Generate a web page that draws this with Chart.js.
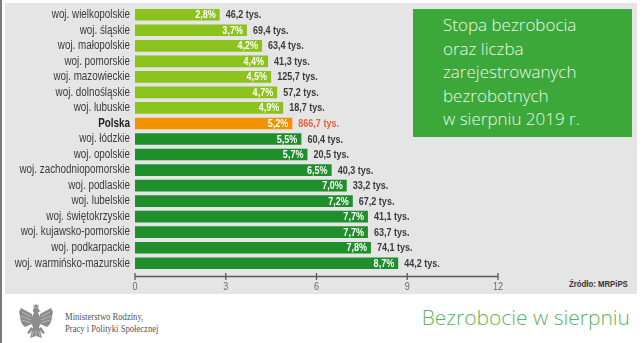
<!DOCTYPE html>
<html><head><meta charset="utf-8">
<script src="https://cdn.jsdelivr.net/npm/chart.js@4"></script>
<style>
html,body{margin:0;padding:0;background:#fff;}
body{width:643px;height:343px;position:relative;overflow:hidden;}
#panel{position:absolute;left:5px;top:3px;width:632px;height:291px;background:#e5e5e5;}
#edge{position:absolute;left:0;top:0;width:1.5px;height:343px;background:#7a7a7a;}
#box{position:absolute;left:413px;top:9px;width:219px;height:128px;background:#3ca83a;color:#eef7e8;font-family:'Open Sans',sans-serif;font-weight:300;font-size:17px;line-height:23.5px;padding:4px 0 0 30px;box-sizing:border-box;}
#src{position:absolute;right:15px;top:278px;font:bold 9.5px 'Liberation Sans',sans-serif;color:#333;transform:scaleX(0.82);transform-origin:right center;white-space:nowrap;}
#title{position:absolute;right:13px;top:303px;font:300 21px 'Open Sans',sans-serif;color:#5bb55b;white-space:nowrap;}
#min{position:absolute;left:65px;top:311px;font:10px 'Liberation Serif',serif;color:#555;line-height:11.5px;transform:scaleX(0.86);transform-origin:left top;white-space:nowrap;}
#eagle{position:absolute;left:18px;top:303px;width:36px;height:38px;}
#wrap{position:absolute;left:0;top:0;width:643px;height:343px;}
</style></head>
<body>
<div id="edge"></div>
<div id="panel"></div>
<div id="box">Stopa bezrobocia<br>oraz liczba<br>zarejestrowanych<br>bezrobotnych<br>w sierpniu 2019 r.</div>
<div id="src">Źródło: MRPiPS</div>
<svg id="eagle" viewBox="0 0 36 38">
 <g fill="#8c8c8c">
  <path d="M15.5 1 L16.5 3 L18 0.5 L19.5 3 L20.5 1 L20.5 4.5 L15.5 4.5 Z"/>
  <circle cx="18" cy="7.5" r="3"/>
  <path d="M20.5 7 L23 8 L20.5 9 Z"/>
  <ellipse cx="18" cy="18" rx="4.5" ry="9"/>
  <path d="M14 11 L3 5 L1 9 L2 13 L2.5 17 L4 21 L7 24 L14 21 Z"/>
  <path d="M22 11 L33 5 L35 9 L34 13 L33.5 17 L32 21 L29 24 L22 21 Z"/>
  <path d="M14.5 25 L21.5 25 L24 35 L18 33 L12 35 Z"/>
  <path d="M13 24 L9 30 L11 31 L15 26 Z"/>
  <path d="M23 24 L27 30 L25 31 L21 26 Z"/>
 </g>
 <g stroke="#d8d8d8" stroke-width="0.6" fill="none">
  <path d="M4 9 L13 14 M3 13 L13 17 M4 17 L13 20"/>
  <path d="M32 9 L23 14 M33 13 L23 17 M32 17 L23 20"/>
  <path d="M18 27 L18 33 M15.5 28 L14 33 M20.5 28 L22 33"/>
 </g>
</svg>
<div id="min">Ministerstwo Rodziny,<br>Pracy i Polityki Społecznej</div>
<div id="title">Bezrobocie w sierpniu</div>
<div id="wrap"><canvas id="c" width="643" height="343"></canvas></div>
<script>
const categories = ['woj. wielkopolskie','woj. śląskie','woj. małopolskie','woj. pomorskie','woj. mazowieckie','woj. dolnośląskie','woj. lubuskie','Polska','woj. łódzkie','woj. opolskie','woj. zachodniopomorskie','woj. podlaskie','woj. lubelskie','woj. świętokrzyskie','woj. kujawsko-pomorskie','woj. podkarpackie','woj. warmińsko-mazurskie'];
const rates = [2.8,3.7,4.2,4.4,4.5,4.7,4.9,5.2,5.5,5.7,6.5,7.0,7.2,7.7,7.7,7.8,8.7];
const counts = [46.2,69.4,63.4,41.3,125.7,57.2,18.7,866.7,60.4,20.5,40.3,33.2,67.2,41.1,63.7,74.1,44.2];
const xTicks = [0,3,6,9,12];
const highlight = 'Polska';

const FAM = "'Liberation Sans',Arial,sans-serif";
const SX = 0.82; // condensed look
const hiIdx = categories.indexOf(highlight);
const colors = categories.map((c,i)=> i===hiIdx ? '#f39200' : (rates[i] < rates[hiIdx] ? '#8cc21c' : '#1f8f2b'));
const fmt = v => v.toFixed(1).replace('.', ',');

function cText(ctx, text, x, y, align, font, color){
  ctx.save();
  ctx.translate(x, y); ctx.scale(SX, 1);
  ctx.font = font; ctx.fillStyle = color; ctx.textAlign = align; ctx.textBaseline = 'middle';
  ctx.fillText(text, 0, 0);
  ctx.restore();
}

const labelPlugin = {
  id:'labels',
  afterDatasetsDraw(chart){
    const ctx = chart.ctx, meta = chart.getDatasetMeta(0), xs = chart.scales.x, ys = chart.scales.y;
    ctx.save();
    const ay = chart.chartArea.bottom + 5.5;
    ctx.strokeStyle = '#5a5a5a'; ctx.lineWidth = 1.3;
    ctx.beginPath();
    ctx.moveTo(xs.getPixelForValue(xTicks[0]), ay);
    ctx.lineTo(xs.getPixelForValue(xTicks[xTicks.length-1]), ay);
    ctx.stroke();
    xTicks.forEach(v=>{
      const px = xs.getPixelForValue(v);
      ctx.beginPath(); ctx.moveTo(px, ay-3.5); ctx.lineTo(px, ay+3.5); ctx.stroke();
      cText(ctx, String(v), px, ay + 10.5, 'center', '11px ' + FAM, '#6a6a6a');
    });
    categories.forEach((c,i)=>{
      const py = ys.getPixelForValue(i);
      cText(ctx, c, chart.chartArea.left - 5, py, 'right', (i===hiIdx?'bold ':'') + '12px ' + FAM, i===hiIdx?'#222':'#3a3a3a');
    });
    meta.data.forEach((bar,i)=>{
      cText(ctx, fmt(rates[i]) + '%', bar.x - 4, bar.y + 0.5, 'right', 'bold 11px ' + FAM, '#ffffff');
      cText(ctx, fmt(counts[i]) + ' tys.', bar.x + 6, bar.y + 0.5, 'left', 'bold 11px ' + FAM, i===hiIdx ? '#e8603c' : '#3a3a3a');
    });
    ctx.restore();
  }
};

new Chart(document.getElementById('c'), {
  type:'bar',
  data:{ labels:categories, datasets:[{ data:rates, backgroundColor:colors, borderWidth:0, categoryPercentage:1, barPercentage:0.75 }] },
  options:{
    indexAxis:'y', responsive:false, animation:false, devicePixelRatio:1,
    layout:{ padding:{ left:0, top:7, right:145, bottom:0 } },
    plugins:{ legend:{display:false}, tooltip:{enabled:false} },
    scales:{
      x:{ min:0, max:12, grid:{display:false, drawTicks:false}, border:{display:false},
          afterBuildTicks: s => { s.ticks = xTicks.map(v=>({value:v})); },
          afterFit: s => { s.height = 72; },
          ticks:{ display:false } },
      y:{ grid:{display:false, drawTicks:false}, border:{display:false},
          afterFit: s => { s.width = 135; },
          ticks:{ display:false, autoSkip:false } }
    }
  },
  plugins:[labelPlugin]
});
</script>
</body></html>
